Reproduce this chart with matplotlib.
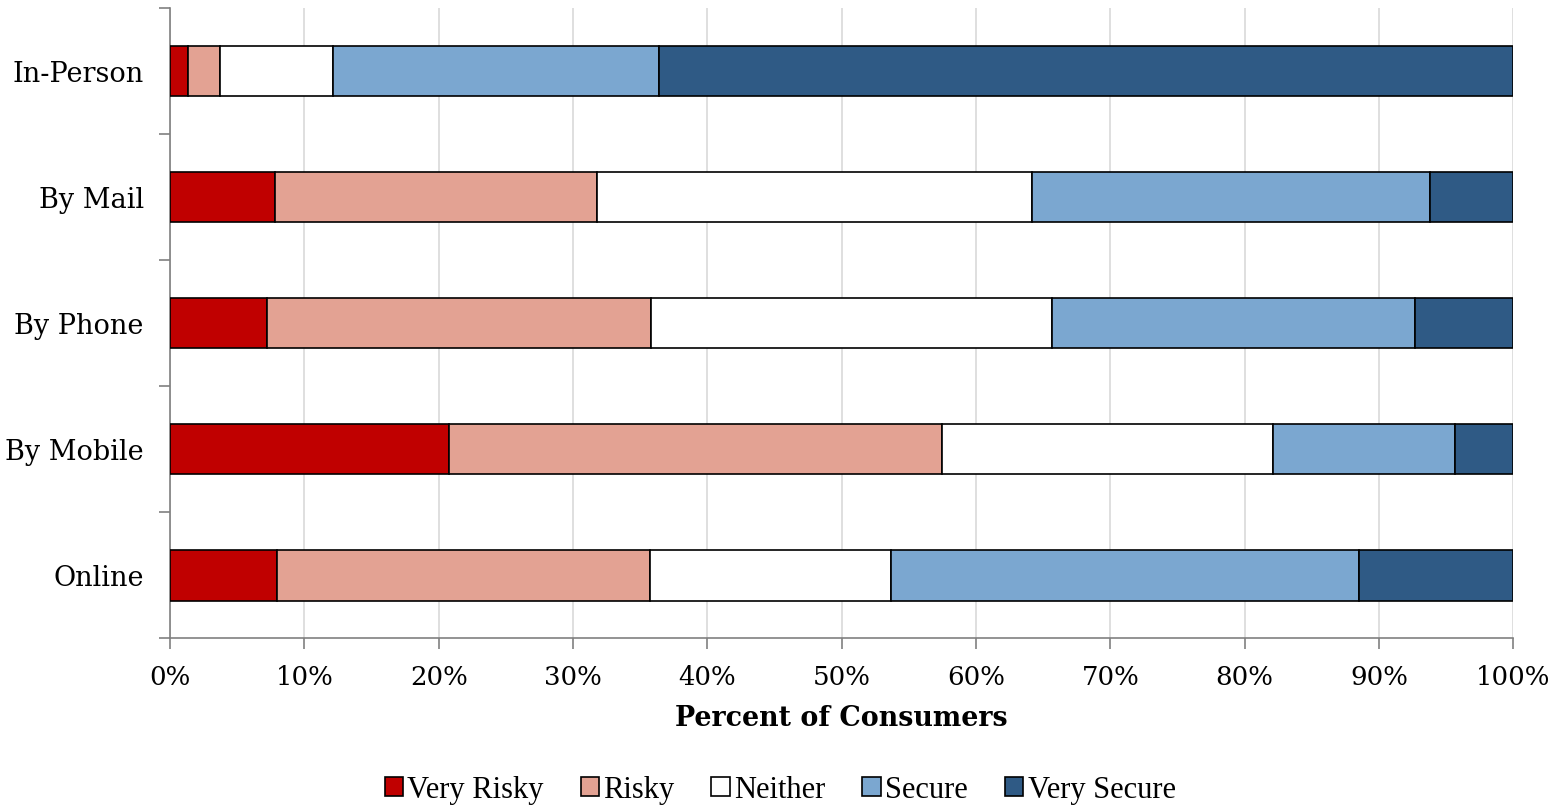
import numpy as np
import matplotlib
matplotlib.use("Agg")
import matplotlib.pyplot as plt
from matplotlib.ticker import FixedLocator, PercentFormatter

# data (percent of consumers), top to bottom as shown
channels = ["In-Person", "By Mail", "By Phone", "By Mobile", "Online"]
series_names = ["Very Risky", "Risky", "Neither", "Secure", "Very Secure"]
very_risky = [1.3, 7.8, 7.2, 20.8, 8.0]
risky = [2.4, 24.0, 28.6, 36.7, 27.7]
neither = [8.4, 32.4, 29.9, 24.6, 18.0]
secure = [24.3, 29.6, 27.0, 13.6, 34.8]
very_secure = [63.6, 6.2, 7.3, 4.3, 11.5]
colors = ["#C00000", "#E3A293", "#FFFFFF", "#7BA7D0", "#2F5A85"]

plt.rcParams['font.family'] = ['DejaVu Serif']

fig = plt.figure(figsize=(15.6, 8.07), dpi=100)
ax = fig.add_axes([0.109, 0.209, 0.861, 0.781])

y = np.arange(len(channels))[::-1]
left = np.zeros(len(channels))
for name, vals, col in zip(series_names, [very_risky, risky, neither, secure, very_secure], colors):
    ax.barh(y, vals, left=left, height=0.4, color=col, edgecolor="black",
            linewidth=1.2, label=name, zorder=3)
    left += np.array(vals)

ax.set_xlim(0, 100)
ax.set_ylim(-0.5, len(channels) - 0.5)
ax.xaxis.set_major_locator(FixedLocator(np.arange(0, 101, 10)))
ax.xaxis.set_major_formatter(PercentFormatter(decimals=0))
ax.grid(axis="x", color="#D9D9D9", linewidth=1.2, zorder=0)

# category boundaries as ticks, labels at centres
ax.yaxis.set_major_locator(FixedLocator(np.arange(-0.5, len(channels), 1.0)))
ax.set_yticklabels([])
ax.yaxis.set_minor_locator(FixedLocator(y))
ax.set_yticks(y, channels, minor=True)
ax.tick_params(axis="y", which="minor", length=0, pad=19, labelsize=19.5)
ax.tick_params(axis="y", which="major", length=8, color="#808080", width=1.2)
ax.tick_params(axis="x", length=8, color="#808080", width=1.2, labelsize=18.7, pad=11)

for s in ["top", "right"]:
    ax.spines[s].set_visible(False)
for s in ["left", "bottom"]:
    ax.spines[s].set_color("#808080")
    ax.spines[s].set_linewidth(1.2)

ax.set_xlabel("Percent of Consumers", fontsize=19.4, fontweight="bold", labelpad=11)

fig.legend(loc="lower center", bbox_to_anchor=(0.5, -0.031), ncol=5, frameon=False,
           prop={'family': 'Liberation Serif', 'size': 22}, handlelength=0.6,
           handleheight=0.6, handletextpad=0.15, columnspacing=1.2)

fig.savefig("out.png", dpi=100)
